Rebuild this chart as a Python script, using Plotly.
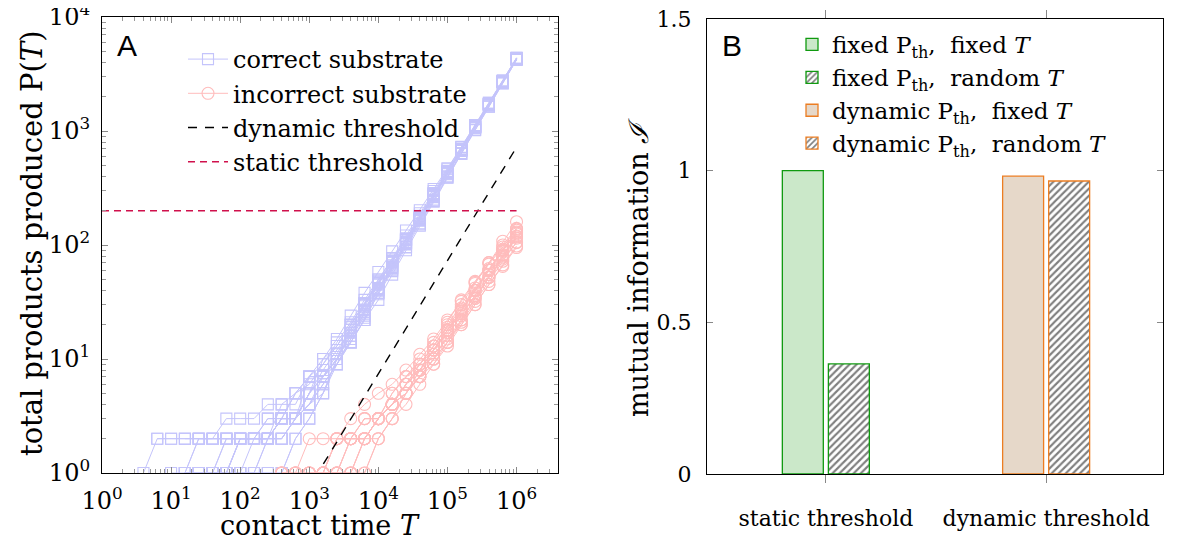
import plotly.graph_objects as go

# sampling times used by every trajectory (log spaced, 5 per decade)
T_grid = [1, 1.585, 2.512, 3.981, 6.31, 10, 15.85, 25.12, 39.81, 63.1,
          100, 158.5, 251.2, 398.1, 631, 1000, 1585, 2512, 3981, 6310,
          1e4, 15850, 25120, 39810, 63100, 1e5, 158500, 251200, 398100, 631000, 1e6]

# products produced, correct substrate (each run ends at T = 1e6)
correct_runs = [
    [1, 2, 2, 2, 2, 2, 2, 2, 2, 2, 2, 3, 4, 7, 9, 14, 22, 38, 62, 104, 166, 265, 425, 676, 1075, 1705, 2700, 4290],
    [1, 1, 1, 1, 2, 2, 2, 3, 3, 5, 8, 12, 18, 30, 47, 72, 112, 175, 280, 438, 690, 1090, 1720, 2720, 4320],
    [1, 1, 1, 1, 1, 2, 4, 4, 7, 7, 10, 16, 25, 40, 64, 102, 168, 270, 428, 680, 1082, 1710, 2705, 4310],
    [1, 2, 2, 2, 2, 2, 3, 3, 3, 5, 7, 11, 19, 29, 45, 70, 110, 172, 275, 432, 684, 1085, 1712, 2712, 4300],
    [1, 1, 1, 2, 2, 2, 2, 3, 5, 6, 9, 14, 21, 33, 50, 75, 114, 178, 282, 440, 692, 1094, 1725, 2730, 4330],
    [1, 1, 1, 1, 1, 2, 2, 2, 2, 3, 5, 10, 13, 20, 31, 48, 73, 110, 170, 268, 426, 678, 1078, 1708, 2702, 4295],
    [1, 2, 2, 2, 3, 3, 5, 7, 10, 18, 27, 42, 66, 106, 170, 272, 430, 682, 1080, 1714, 2710, 4305],
    [1, 1, 2, 2, 2, 3, 4, 6, 9, 15, 26, 40, 63, 101, 163, 262, 418, 668, 1068, 1695, 2690, 4275],
    [1, 1, 1, 1, 1, 1, 1, 1, 2, 3, 5, 9, 15, 24, 38, 60, 96, 155, 250, 400, 640, 1030, 1650, 2640, 4230],
    [2, 2, 2, 2, 2, 2, 3, 3, 3, 5, 7, 10, 14, 22, 33, 55, 90, 148, 240, 390, 630, 1020, 1640, 2630, 4220],
    [1, 2, 2, 3, 3, 3, 4, 4, 5, 7, 10, 15, 24, 38, 58, 88, 134, 202, 310, 470, 725, 1125, 1765, 2765, 4380],
    [1, 1, 2, 3, 3, 4, 6, 9, 14, 23, 37, 59, 95, 152, 244, 392, 630, 1015, 1630, 2610, 4200],
    [1, 1, 1, 1, 2, 2, 2, 3, 5, 7, 9, 13, 20, 31, 49, 77, 121, 190, 298, 462, 720, 1125, 1765, 2770, 4390],
    [1, 1, 1, 1, 1, 1, 1, 2, 3, 5, 10, 16, 26, 41, 66, 104, 166, 265, 424, 676, 1076, 1705, 2702, 4292],
    [2, 2, 2, 2, 2, 2, 2, 2, 2, 3, 3, 4, 5, 10, 17, 27, 45, 71, 112, 178, 282, 440, 695, 1098, 1730, 2735, 4340],
    [1, 1, 2, 2, 2, 2, 2, 3, 7, 7, 10, 20, 30, 46, 72, 114, 180, 285, 445, 700, 1100, 1735, 2740, 4345],
]

# products produced, incorrect substrate
incorrect_runs = [
    [1, 1, 2, 2, 2, 2, 3, 3, 4, 6, 9, 13, 20, 30, 46, 70, 108, 160],
    [1, 1, 1, 1, 2, 3, 5, 7, 9, 12, 18, 25, 35, 52, 75, 105],
    [1, 1, 1, 1, 1, 2, 2, 3, 4, 5, 8, 12, 17, 26, 40, 60, 92, 130],
    [1, 2, 2, 2, 3, 5, 7, 10, 14, 21, 33, 48, 70, 100, 140],
    [1, 1, 1, 1, 2, 3, 4, 6, 8, 11, 15, 22, 34, 52, 78, 115],
    [1, 1, 1, 1, 1, 1, 2, 2, 3, 4, 6, 9, 14, 22, 34, 52, 80, 118],
    [1, 2, 3, 5, 7, 9, 13, 20, 30, 45, 65, 95],
    [2, 2, 2, 3, 4, 6, 9, 13, 19, 28, 42, 62, 90, 125],
    [1, 1, 1, 1, 1, 2, 3, 3, 4, 5, 7, 10, 16, 24, 36, 55, 82, 120],
    [1, 1, 2, 2, 3, 4, 6, 8, 12, 18, 27, 40, 60, 88, 128],
    [1, 1, 1, 2, 2, 2, 3, 4, 5, 7, 10, 14, 21, 32, 48, 72, 106],
    [1, 1, 2, 2, 3, 3, 4, 5, 7, 10, 14, 20, 30, 45, 67, 98],
    [1, 1, 1, 1, 1, 1, 1, 2, 3, 5, 8, 12, 18, 27, 40, 60, 90, 135],
    [1, 2, 3, 4, 5, 6, 8, 11, 15, 22, 32, 47, 68, 96, 138],
]

dynamic_T = [1600, 1e6]
dynamic_P = [1.2, 720]
static_T = [1, 1e6]
static_P = [200, 200]

log_ticks = [1, 10, 100, 1000, 1e4, 1e5, 1e6]
log_ticktext = ["10<sup>0</sup>", "10<sup>1</sup>", "10<sup>2</sup>", "10<sup>3</sup>",
                "10<sup>4</sup>", "10<sup>5</sup>", "10<sup>6</sup>"]

# panel B
categories = ["static threshold", "dynamic threshold"]
static_fixed_T = [1.0]
static_random_T = [0.363]
dynamic_fixed_T = [0.982]
dynamic_random_T = [0.966]

SERIF = "DejaVu Serif"
BLUE = "#c4c4fb"
PINK = "#ffbcbc"
GREEN = "#109a10"
ORANGE = "#ec7d22"

# the page body adds an 8px margin, so place things relative to that
W, H = 1172, 536


def px(x):
    return (x - 8) / W


def py(y):
    return 1 - (y - 8) / H


fig = go.Figure()

for i, vals in enumerate(correct_runs):
    fig.add_trace(go.Scatter(
        x=T_grid[len(T_grid) - len(vals):], y=vals, mode="lines+markers",
        line=dict(color=BLUE, width=1),
        marker=dict(symbol="square-open", size=11, color=BLUE, line=dict(width=1.1)),
        name="correct substrate", legendgroup="c", showlegend=(i == 0),
        xaxis="x", yaxis="y", legend="legend"))

for i, vals in enumerate(incorrect_runs):
    fig.add_trace(go.Scatter(
        x=T_grid[len(T_grid) - len(vals):], y=vals, mode="lines+markers",
        line=dict(color=PINK, width=1),
        marker=dict(symbol="circle-open", size=12, color=PINK, line=dict(width=1.1)),
        name="incorrect substrate", legendgroup="i", showlegend=(i == 0),
        xaxis="x", yaxis="y", legend="legend"))

fig.add_trace(go.Scatter(x=dynamic_T, y=dynamic_P, mode="lines",
                         line=dict(color="black", width=1.4, dash="9px,8px"),
                         name="dynamic threshold", xaxis="x", yaxis="y", legend="legend"))
fig.add_trace(go.Scatter(x=static_T, y=static_P, mode="lines",
                         line=dict(color="#d0104c", width=1.6, dash="7px,5px"),
                         name="static threshold", xaxis="x", yaxis="y", legend="legend"))

# bars
bw = 0.186
hatch = dict(shape="/", fgcolor="#000000", bgcolor="white", size=5, solidity=0.42)
fig.add_trace(go.Bar(x=categories[:1], y=static_fixed_T, width=bw, offset=-0.198,
                     marker=dict(color="#cbe8c9", line=dict(color=GREEN, width=1.3)),
                     name="fixed P<sub>th</sub>,  fixed <i>T</i>",
                     xaxis="x2", yaxis="y2", legend="legend2"))
fig.add_trace(go.Bar(x=categories[:1], y=static_random_T, width=bw, offset=0.011,
                     marker=dict(color="white", line=dict(color=GREEN, width=1.3), pattern=hatch),
                     name="fixed P<sub>th</sub>,  random <i>T</i>",
                     xaxis="x2", yaxis="y2", legend="legend2"))
fig.add_trace(go.Bar(x=categories[1:], y=dynamic_fixed_T, width=bw, offset=-0.198,
                     marker=dict(color="#e6d8c9", line=dict(color=ORANGE, width=1.3)),
                     name="dynamic P<sub>th</sub>,  fixed <i>T</i>",
                     xaxis="x2", yaxis="y2", legend="legend2"))
fig.add_trace(go.Bar(x=categories[1:], y=dynamic_random_T, width=bw, offset=0.011,
                     marker=dict(color="white", line=dict(color=ORANGE, width=1.3), pattern=hatch),
                     name="dynamic P<sub>th</sub>,  random <i>T</i>",
                     xaxis="x2", yaxis="y2", legend="legend2"))

minor_x = [d * 10 ** e for e in range(0, 7) for d in range(2, 10)]
minor_y = [d * 10 ** e for e in range(0, 4) for d in range(2, 10)]

axis_common = dict(showline=True, linecolor="black", linewidth=1.2, mirror="allticks",
                   showgrid=False, zeroline=False, automargin=False,
                   ticklabeloverflow="allow")
log_font = dict(family=SERIF, size=24, color="black")
lin_font = dict(family=SERIF, size=22, color="black")

fig.update_layout(
    width=W, height=H,
    margin=dict(l=0, r=0, t=0, b=0),
    paper_bgcolor="white", plot_bgcolor="white",
    font=dict(family=SERIF, color="black"),
    barmode="overlay",
    xaxis=dict(type="log", domain=[px(102), px(558)], range=[0, 6.6], anchor="y",
               tickmode="array", tickvals=log_ticks, ticktext=log_ticktext,
               ticks="inside", ticklen=6, tickcolor="#888", tickfont=log_font,
               minor=dict(tickmode="array", tickvals=minor_x, ticks="inside",
                          ticklen=4, tickcolor="#999"),
               ticklabelstandoff=6, **axis_common),
    yaxis=dict(type="log", domain=[py(473), py(17)], range=[0, 4], anchor="x",
               tickmode="array", tickvals=log_ticks[:5], ticktext=log_ticktext[:5],
               ticks="inside", ticklen=6, tickcolor="#888", tickfont=log_font,
               minor=dict(tickmode="array", tickvals=minor_y, ticks="inside",
                          ticklen=4, tickcolor="#999"),
               ticklabelstandoff=6, **axis_common),
    xaxis2=dict(type="category", domain=[px(707), px(1163)], range=[-0.54, 1.53], anchor="y2",
                ticks="outside", ticklen=8, tickcolor="#888", tickfont=lin_font,
                ticklabelstandoff=16, **axis_common),
    yaxis2=dict(domain=[py(474), py(19)], range=[0, 1.5], anchor="x2",
                tickvals=[0, 0.5, 1, 1.5], ticktext=["0", "0.5", "1", "1.5"],
                ticks="inside", ticklen=6, tickcolor="#888", tickfont=lin_font,
                ticklabelstandoff=10, **axis_common),
    legend=dict(x=px(183), y=py(37), xanchor="left", yanchor="top",
                bgcolor="rgba(0,0,0,0)", font=dict(family=SERIF, size=24, color="black"),
                tracegroupgap=0, itemwidth=40),
    legend2=dict(x=px(792), y=py(23), xanchor="left", yanchor="top",
                 bgcolor="rgba(0,0,0,0)", font=dict(family=SERIF, size=23, color="black"),
                 tracegroupgap=0),
    showlegend=True,
)

ann = dict(xref="paper", yref="paper", showarrow=False, xanchor="center", yanchor="middle")
fig.add_annotation(text="A", x=px(127), y=py(45),
                   font=dict(family="Liberation Sans", size=30, color="black"), **ann)
fig.add_annotation(text="B", x=px(732), y=py(45),
                   font=dict(family="Liberation Sans", size=30, color="black"), **ann)
fig.add_annotation(text="total products produced P(<i>T</i>)", textangle=-90,
                   x=px(32), y=py(243), font=dict(family=SERIF, size=29, color="black"), **ann)
fig.add_annotation(text="contact time <i>T</i>", x=px(320), y=py(525),
                   font=dict(family=SERIF, size=27, color="black"), **ann)
fig.add_annotation(text="mutual information <i>ℐ</i>", textangle=-90,
                   x=px(638), y=py(268), font=dict(family=SERIF, size=27, color="black"), **ann)

fig.write_html("out.html")
